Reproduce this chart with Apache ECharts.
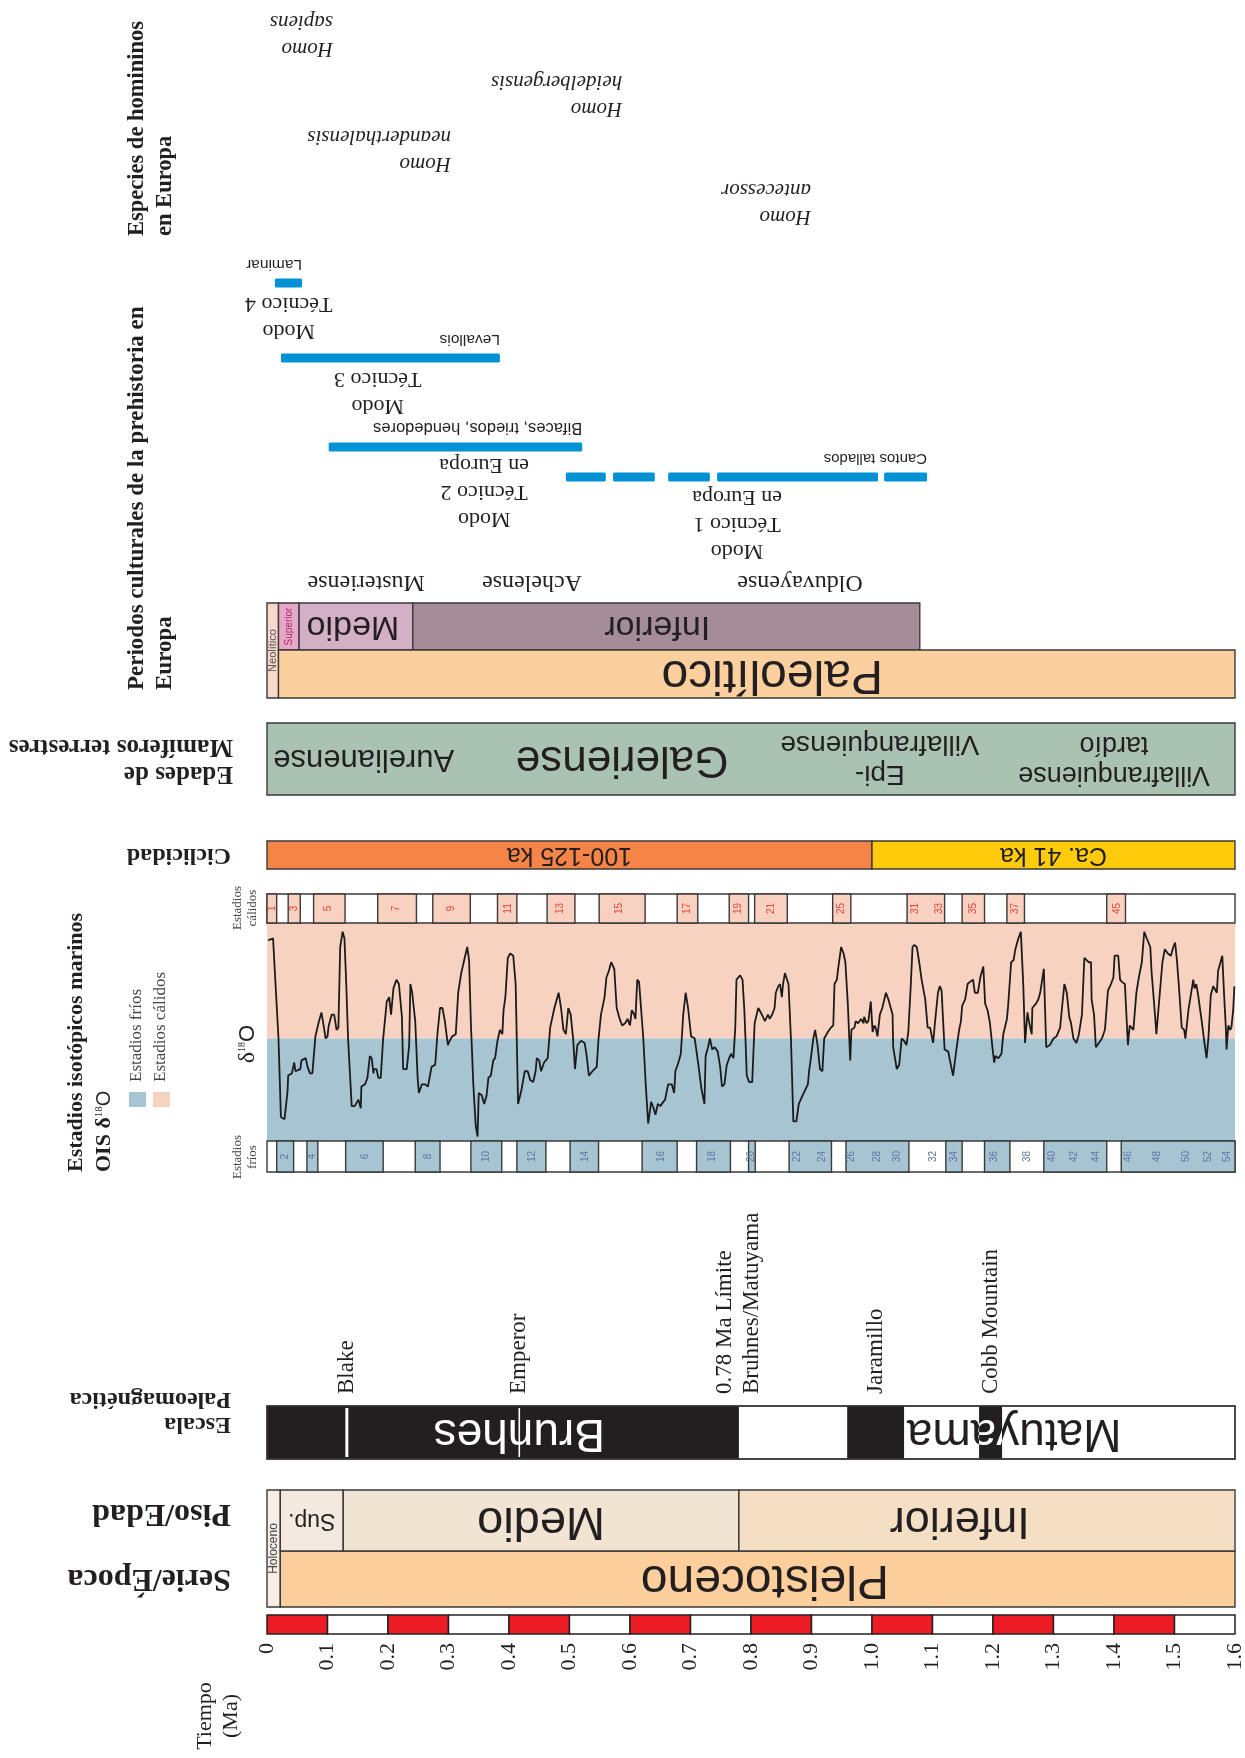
<!DOCTYPE html>
<html lang="es">
<head>
<meta charset="utf-8">
<title>Cronología del Pleistoceno en Europa</title>
<script src="https://cdn.jsdelivr.net/npm/echarts@6/dist/echarts.min.js"></script>
<style>
html, body { margin: 0; padding: 0; background: #ffffff; }
#chart { width: 1245px; height: 1758px; }
</style>
</head>
<body>
<div id="chart"></div>
<script>
// ---------------- Data (ages in Ma) ----------------
const timeCellEdges = [0, 0.1, 0.2, 0.3, 0.4, 0.5, 0.6, 0.7, 0.8, 0.9, 1.0, 1.1, 1.2, 1.3, 1.4, 1.5, 1.6];

const epochs = [['Holoceno', 0, 0.022], ['Pleistoceno', 0.022, 1.6]];
// [name, start, end, label anchor]
const stages = [['Sup.', 0.022, 0.126, 0.074], ['Medio', 0.126, 0.78, 0.453], ['Inferior', 0.78, 1.6, 1.145]];

const normalPolarity = [['Brunhes', 0, 0.78], ['Jaramillo', 0.959, 1.053], ['Cobb Mountain', 1.177, 1.215]];
const excursions = [['Blake', 0.132], ['Emperor', 0.417]];
const chronNames = [['Brunhes', 0.417], ['Matuyama', 1.235]];
const polarityEvents = [['Blake', 0.132], ['Emperor', 0.417], ['0.78 Ma Límite\nBruhnes/Matuyama', 0.78], ['Jaramillo', 1.006], ['Cobb Mountain', 1.196]];

// Marine isotope stages
const warmStages = [[0, 0.016], [0.035, 0.055], [0.077, 0.129], [0.183, 0.247], [0.274, 0.336], [0.381, 0.413],
  [0.463, 0.509], [0.549, 0.625], [0.678, 0.712], [0.764, 0.796], [0.806, 0.860], [0.935, 0.965],
  [1.058, 1.120], [1.149, 1.186], [1.223, 1.252], [1.388, 1.419]];
const coldStages = [[0.016, 0.044], [0.066, 0.084], [0.130, 0.192], [0.245, 0.286], [0.337, 0.388], [0.413, 0.461],
  [0.501, 0.548], [0.620, 0.678], [0.710, 0.766], [0.796, 0.807], [0.863, 0.933], [0.957, 1.061],
  [1.122, 1.149], [1.186, 1.228], [1.284, 1.388], [1.412, 1.600]];
const warmStageNumbers = [[0.008, '1'], [0.045, '3'], [0.102, '5'], [0.214, '7'], [0.305, '9'], [0.399, '11'],
  [0.484, '13'], [0.583, '15'], [0.694, '17'], [0.779, '19'], [0.834, '21'], [0.949, '25'], [1.072, '31'],
  [1.111, '33'], [1.168, '35'], [1.237, '37'], [1.406, '45']];
const coldStageNumbers = [[0.030, '2'], [0.075, '4'], [0.162, '6'], [0.267, '8'], [0.363, '10'], [0.438, '12'],
  [0.526, '14'], [0.651, '16'], [0.736, '18'], [0.801, '20'], [0.877, '22'], [0.918, '24'], [0.966, '26'],
  [1.008, '28'], [1.042, '30'], [1.101, '32'], [1.136, '34'], [1.202, '36'], [1.256, '38'], [1.298, '40'],
  [1.334, '42'], [1.370, '44'], [1.424, '46'], [1.472, '48'], [1.519, '50'], [1.556, '52'], [1.588, '54']];

// delta18O record, relative units (0 = coldest, 100 = warmest)
const oisThreshold = 47;
const oisCurve = [
  [0.002, 92], [0.010, 93], [0.019, 47], [0.023, 11], [0.029, 10], [0.034, 23], [0.035, 30], [0.041, 31], [0.045, 36], [0.047, 32],
  [0.055, 33], [0.057, 37], [0.064, 38], [0.067, 34], [0.071, 31], [0.075, 31], [0.080, 48], [0.085, 54], [0.090, 59], [0.093, 54],
  [0.097, 47], [0.100, 48], [0.102, 53], [0.107, 58], [0.111, 58], [0.115, 51], [0.118, 52], [0.121, 89], [0.125, 96], [0.128, 93],
  [0.131, 72], [0.134, 47], [0.140, 16], [0.145, 16], [0.151, 19], [0.155, 15], [0.156, 25], [0.162, 26], [0.166, 29], [0.170, 39],
  [0.173, 38], [0.176, 31], [0.177, 33], [0.181, 33], [0.184, 29], [0.188, 29], [0.192, 47], [0.198, 64], [0.202, 66], [0.205, 58],
  [0.209, 70], [0.214, 74], [0.218, 72], [0.223, 57], [0.225, 33], [0.231, 33], [0.235, 44], [0.237, 72], [0.240, 68], [0.245, 55],
  [0.249, 29], [0.251, 22], [0.256, 26], [0.261, 26], [0.266, 25], [0.272, 34], [0.278, 35], [0.282, 50], [0.286, 61], [0.290, 61],
  [0.294, 55], [0.299, 44], [0.302, 46], [0.306, 48], [0.312, 49], [0.316, 68], [0.321, 77], [0.326, 83], [0.331, 89], [0.334, 83],
  [0.337, 54], [0.341, 26], [0.345, 7], [0.348, 2], [0.350, 22], [0.355, 21], [0.359, 17], [0.363, 21], [0.366, 29], [0.370, 30],
  [0.374, 37], [0.377, 38], [0.381, 46], [0.385, 51], [0.389, 49], [0.391, 60], [0.394, 66], [0.398, 84], [0.402, 86], [0.407, 85],
  [0.411, 72], [0.415, 17], [0.421, 24], [0.426, 32], [0.431, 32], [0.435, 28], [0.440, 27], [0.444, 32], [0.446, 38], [0.450, 37],
  [0.453, 32], [0.458, 36], [0.464, 38], [0.468, 52], [0.475, 61], [0.482, 68], [0.486, 61], [0.490, 51], [0.494, 49], [0.498, 61],
  [0.502, 58], [0.506, 47], [0.509, 33], [0.513, 44], [0.519, 46], [0.525, 45], [0.528, 40], [0.532, 30], [0.538, 32], [0.545, 34],
  [0.548, 47], [0.552, 58], [0.558, 66], [0.561, 75], [0.565, 78], [0.569, 82], [0.574, 79], [0.578, 61], [0.583, 56], [0.587, 53],
  [0.592, 54], [0.596, 56], [0.600, 53], [0.603, 60], [0.607, 58], [0.609, 56], [0.612, 74], [0.615, 73], [0.618, 73], [0.622, 47],
  [0.626, 26], [0.630, 8], [0.635, 18], [0.639, 15], [0.642, 12], [0.646, 17], [0.650, 16], [0.653, 16], [0.658, 19], [0.663, 26],
  [0.669, 26], [0.673, 22], [0.675, 32], [0.680, 36], [0.684, 40], [0.688, 58], [0.692, 68], [0.696, 61], [0.701, 48], [0.707, 47],
  [0.713, 35], [0.718, 24], [0.723, 17], [0.725, 39], [0.729, 43], [0.732, 47], [0.736, 42], [0.740, 43], [0.745, 41], [0.749, 34],
  [0.752, 25], [0.756, 26], [0.760, 35], [0.764, 38], [0.767, 40], [0.771, 38], [0.774, 52], [0.776, 74], [0.782, 76], [0.786, 74],
  [0.789, 60], [0.791, 46], [0.793, 30], [0.797, 27], [0.802, 27], [0.806, 54], [0.812, 61], [0.818, 58], [0.823, 55], [0.828, 58],
  [0.831, 56], [0.835, 58], [0.839, 61], [0.841, 68], [0.845, 71], [0.848, 72], [0.851, 66], [0.853, 72], [0.856, 77], [0.862, 72],
  [0.866, 47], [0.870, 9], [0.875, 9], [0.879, 17], [0.887, 22], [0.894, 26], [0.896, 32], [0.899, 38], [0.903, 47], [0.906, 51],
  [0.910, 44], [0.914, 33], [0.918, 32], [0.921, 47], [0.927, 50], [0.932, 52], [0.936, 53], [0.938, 72], [0.942, 74], [0.944, 79],
  [0.949, 89], [0.953, 86], [0.956, 82], [0.960, 63], [0.964, 37], [0.966, 51], [0.971, 52], [0.973, 55], [0.977, 54], [0.982, 56],
  [0.986, 54], [0.987, 57], [0.991, 54], [0.994, 55], [0.998, 64], [1.001, 50], [1.004, 53], [1.006, 52], [1.009, 48], [1.013, 58],
  [1.017, 61], [1.023, 68], [1.027, 65], [1.031, 61], [1.034, 58], [1.035, 43], [1.041, 33], [1.045, 35], [1.049, 47], [1.053, 46],
  [1.057, 44], [1.060, 50], [1.064, 71], [1.067, 89], [1.070, 90], [1.074, 89], [1.078, 82], [1.082, 74], [1.088, 65], [1.092, 52],
  [1.096, 52], [1.101, 45], [1.104, 54], [1.109, 68], [1.112, 71], [1.115, 69], [1.120, 42], [1.123, 42], [1.126, 41], [1.131, 34],
  [1.134, 30], [1.136, 30], [1.140, 43], [1.144, 51], [1.147, 55], [1.149, 62], [1.154, 65], [1.158, 72], [1.162, 73], [1.167, 74],
  [1.170, 68], [1.175, 68], [1.179, 75], [1.184, 80], [1.187, 63], [1.191, 60], [1.195, 54], [1.199, 43], [1.202, 36], [1.204, 39],
  [1.209, 38], [1.214, 40], [1.217, 49], [1.223, 56], [1.225, 62], [1.230, 82], [1.234, 83], [1.237, 88], [1.242, 93], [1.246, 96],
  [1.250, 72], [1.253, 45], [1.257, 59], [1.260, 54], [1.264, 49], [1.265, 61], [1.271, 63], [1.275, 65], [1.278, 68], [1.284, 79],
  [1.288, 43], [1.294, 44], [1.300, 47], [1.305, 48], [1.311, 52], [1.314, 61], [1.318, 72], [1.322, 68], [1.326, 57], [1.329, 54],
  [1.333, 47], [1.338, 45], [1.342, 49], [1.347, 58], [1.351, 84], [1.358, 82], [1.362, 82], [1.363, 65], [1.367, 58], [1.370, 43],
  [1.375, 45], [1.380, 47], [1.385, 51], [1.390, 69], [1.395, 72], [1.399, 75], [1.401, 85], [1.407, 85], [1.410, 74], [1.413, 73],
  [1.418, 72], [1.423, 44], [1.426, 53], [1.429, 52], [1.432, 51], [1.437, 68], [1.441, 75], [1.446, 82], [1.450, 96], [1.454, 93],
  [1.460, 89], [1.462, 78], [1.468, 57], [1.470, 49], [1.473, 49], [1.477, 72], [1.480, 82], [1.484, 88], [1.489, 86], [1.494, 85],
  [1.498, 89], [1.501, 91], [1.504, 83], [1.507, 72], [1.512, 52], [1.516, 51], [1.518, 47], [1.523, 60], [1.527, 67], [1.531, 74],
  [1.533, 70], [1.536, 72], [1.539, 67], [1.545, 55], [1.549, 46], [1.553, 38], [1.556, 47], [1.560, 67], [1.564, 71], [1.570, 68],
  [1.572, 78], [1.575, 81], [1.579, 85], [1.582, 67], [1.585, 51], [1.586, 42], [1.589, 53], [1.592, 51], [1.594, 52], [1.597, 60],
  [1.599, 71], [1.600, 71]
];

const cyclicity = [['100-125 ka', 0, 1.0], ['Ca. 41 ka', 1.0, 1.6]];
const mammalAges = [['Aurelianense', 0.160], ['Galeriense', 0.587], ['Epi-\nVillafranquiense', 1.013], ['Villafranquiense\ntardío', 1.400]];

// [name, start, end, label anchor]
const culturalPeriods = [['Neolítico', 0, 0.019, 0.0095], ['Superior', 0.019, 0.053, 0.036], ['Medio', 0.053, 0.241, 0.142],
  ['Inferior', 0.241, 1.079, 0.645], ['Paleolítico', 0.019, 1.6, 0.835]];
const industries = [['Musteriense', 0.164], ['Achelense', 0.438], ['Olduvayense', 0.881]];
const lithicModes = [
  ['Cantos tallados', [[0.494, 0.560], [0.572, 0.641], [0.663, 0.732], [0.744, 1.010], [1.020, 1.091]]],
  ['Bifaces, triedos, hendedores', [[0.102, 0.521]]],
  ['Levallois', [[0.023, 0.385]]],
  ['Laminar', [[0.013, 0.058]]]
];
const modeNames = [['Modo\nTécnico 1\nen Europa', 0.777], ['Modo\nTécnico 2\nen Europa', 0.359], ['Modo\nTécnico 3', 0.183], ['Modo\nTécnico 4', 0.036]];
const hominins = [['Homo\nsapiens', 0.109], ['Homo\nheidelbergensis', 0.587], ['Homo\nneanderthalensis', 0.304], ['Homo\nantecessor', 0.899]];

// ---------------- Layout & styles ----------------
const PLOT_LEFT = 267, PLOT_RIGHT = 1235;
const SANS = '"Liberation Sans", Arial, sans-serif';
const SERIF = '"Liberation Serif", "Times New Roman", serif';
const INK = '#231f20';
const EDGE = '#3a3a3a';
const UP = Math.PI / 2, FLIP = Math.PI;

const ROW = {
  epoch: [1551, 1607], stage: [1490, 1551], polarity: [1406, 1459], eventBase: 1394,
  warm: [894, 923], cold: [1141, 1172], cycle: [841, 869], mammals: [723, 795],
  cultureTop: [603, 650], paleo: [650, 698], industries: 582
};
const periodRows = { 'Neolítico': [603, 698], 'Superior': [603, 650], 'Medio': [603, 650], 'Inferior': [603, 650], 'Paleolítico': [650, 698] };
const periodFill = { 'Neolítico': '#F8D8CA', 'Superior': '#E7A8C8', 'Medio': '#D4B0C7', 'Inferior': '#A48C98', 'Paleolítico': '#FBCF9E' };
const stageFill = { 'Sup.': '#F3E9DE', 'Medio': '#F1E4D3', 'Inferior': '#F4DFC5' };
const stageFont = { 'Sup.': 23, 'Medio': 47, 'Inferior': 45 };
const cycleFill = ['#F58446', '#FFCB0A'];
const mammalFont = [31, 44, 28, 27];
const lithicRowY = { 'Cantos tallados': 477, 'Bifaces, triedos, hendedores': 447, 'Levallois': 358, 'Laminar': 283 };
const lithicFont = { 'Cantos tallados': 15, 'Bifaces, triedos, hendedores': 16.5, 'Levallois': 15.5, 'Laminar': 15.5 };
const modeRowY = [524, 492, 392, 317];
const homininRowY = [35, 95, 150, 203];
const excursionWidth = { 'Blake': 3, 'Emperor': 1.6 };

// ---------------- Drawing helpers ----------------
const tx = (api, t) => api.coord([t, 0])[0];

function box(api, t0, t1, y0, y1, fill, stroke, lw) {
  const x0 = tx(api, t0), x1 = tx(api, t1);
  return {
    type: 'rect',
    shape: { x: x0, y: y0, width: x1 - x0, height: y1 - y0 },
    style: { fill: fill, stroke: stroke === undefined ? EDGE : stroke, lineWidth: lw || 1.4 }
  };
}

function label(x, y, text, o) {
  o = o || {};
  const style = {
    text: text, fill: o.fill || INK, fontFamily: o.family || SANS, fontSize: o.size || 14,
    fontWeight: o.weight || 'normal', fontStyle: o.italic ? 'italic' : 'normal',
    align: o.align || 'center', verticalAlign: o.va || 'middle'
  };
  if (o.lh) style.lineHeight = o.lh;
  return { type: 'text', x: x, y: y, rotation: o.rot || 0, style: style };
}

function layer(items, draw, z) {
  return {
    type: 'custom', xAxisIndex: 0, yAxisIndex: 0, clip: false, silent: true, z: z || 2,
    data: items.map(() => [0, 0]),
    renderItem: (params, api) => draw(items[params.dataIndex], api, params.dataIndex)
  };
}

const series = [];

// Time scale bar (own grid, labelled axis)
series.push({
  type: 'custom', xAxisIndex: 2, yAxisIndex: 2, silent: true, z: 2,
  data: timeCellEdges.slice(1).map(() => [0, 0]),
  renderItem: (params, api) => {
    const i = params.dataIndex;
    const a = api.coord([timeCellEdges[i], 1]), b = api.coord([timeCellEdges[i + 1], 0]);
    return {
      type: 'rect', shape: { x: a[0], y: a[1], width: b[0] - a[0], height: b[1] - a[1] },
      style: { fill: i % 2 === 0 ? '#ED1C24' : '#ffffff', stroke: '#222', lineWidth: 1.5 }
    };
  }
});

// Epoch and stage rows
series.push(layer(epochs, (d, api) => {
  if (d[0] === 'Holoceno') {
    return { type: 'group', children: [
      box(api, d[1], d[2], ROW.stage[0], ROW.epoch[1], '#F6EEE6'),
      label((tx(api, d[1]) + tx(api, d[2])) / 2, (ROW.stage[0] + ROW.epoch[1]) / 2, d[0], { rot: UP, size: 12, fill: '#444' })
    ] };
  }
  return { type: 'group', children: [
    box(api, d[1], d[2], ROW.epoch[0], ROW.epoch[1], '#FCCF9D'),
    label(tx(api, 0.823), (ROW.epoch[0] + ROW.epoch[1]) / 2, d[0], { rot: FLIP, size: 48 })
  ] };
}, 2));
series.push(layer(stages, (d, api) => ({ type: 'group', children: [
  box(api, d[1], d[2], ROW.stage[0], ROW.stage[1], stageFill[d[0]]),
  label(tx(api, d[3]), (ROW.stage[0] + ROW.stage[1]) / 2, d[0], { rot: FLIP, size: stageFont[d[0]] })
] }), 2));

// Palaeomagnetic scale
series.push(layer([[0, 1.6]], (d, api) => box(api, d[0], d[1], ROW.polarity[0], ROW.polarity[1], '#ffffff'), 2));
series.push(layer(normalPolarity, (d, api) => box(api, d[1], d[2], ROW.polarity[0], ROW.polarity[1], INK, 'none'), 3));
series.push(layer(excursions, (d, api) => {
  const x = tx(api, d[1]);
  return { type: 'line', shape: { x1: x, y1: ROW.polarity[0] + 2, x2: x, y2: ROW.polarity[1] - 2 },
    style: { stroke: '#ffffff', lineWidth: excursionWidth[d[0]] } };
}, 5));
series.push(layer(chronNames, (d, api) => {
  const x = tx(api, d[1]), y = (ROW.polarity[0] + ROW.polarity[1]) / 2;
  const children = [label(x, y, d[0], { rot: FLIP, size: 46, fill: d[0] === 'Brunhes' ? '#ffffff' : INK })];
  if (d[0] === 'Matuyama') {
    // white lettering where the text crosses normal-polarity subchrons
    normalPolarity.slice(1).forEach(n => {
      const x0 = tx(api, n[1]), x1 = tx(api, n[2]);
      children.push({ type: 'group',
        clipPath: { type: 'rect', shape: { x: x0, y: ROW.polarity[0], width: x1 - x0, height: ROW.polarity[1] - ROW.polarity[0] } },
        children: [label(x, y, d[0], { rot: FLIP, size: 46, fill: '#ffffff' })] });
    });
  }
  return { type: 'group', children: children };
}, 4));
series.push(layer([[0, 1.6]], (d, api) => box(api, d[0], d[1], ROW.polarity[0], ROW.polarity[1], 'none'), 6));
series.push(layer(polarityEvents, (d, api) =>
  label(tx(api, d[1]), ROW.eventBase, d[0], { rot: UP, size: 23, family: SERIF, align: 'left', lh: 27 }), 4));

// Isotope stage strips
function stageStrip(rows, fill) {
  return (d, api) => box(api, d[0], d[1], rows[0], rows[1], fill);
}
series.push(layer([[0, 1.6]], stageStrip(ROW.warm, '#ffffff'), 2));
series.push(layer([[0, 1.6]], stageStrip(ROW.cold, '#ffffff'), 2));
series.push(layer(warmStages, stageStrip(ROW.warm, '#F8D1C0'), 3));
series.push(layer(coldStages, stageStrip(ROW.cold, '#A6C4D2'), 3));
series.push(layer(warmStageNumbers, (d, api) =>
  label(tx(api, d[0]), (ROW.warm[0] + ROW.warm[1]) / 2, d[1], { rot: UP, size: 10, fill: '#E8473A' }), 4));
series.push(layer(coldStageNumbers, (d, api) =>
  label(tx(api, d[0]), (ROW.cold[0] + ROW.cold[1]) / 2, d[1], { rot: UP, size: 10, fill: '#5C76A6' }), 4));

// Isotope curve with warm / cold shading
series.push({
  type: 'custom', xAxisIndex: 1, yAxisIndex: 1, silent: true, z: 1,
  data: [[oisThreshold, 100], [0, oisThreshold]],
  renderItem: (params, api) => {
    const a = api.coord([0, api.value(1)]), b = api.coord([1.6, api.value(0)]);
    return { type: 'rect', shape: { x: a[0], y: a[1], width: b[0] - a[0], height: b[1] - a[1] },
      style: { fill: params.dataIndex === 0 ? '#F8D2C1' : '#A6C4D2' } };
  }
});
series.push({
  type: 'line', xAxisIndex: 1, yAxisIndex: 1, data: oisCurve, symbol: 'none', silent: true, z: 3,
  lineStyle: { color: '#1b1b1b', width: 1.8 }
});

// Cyclicity
series.push(layer(cyclicity, (d, api, i) => ({ type: 'group', children: [
  box(api, d[1], d[2], ROW.cycle[0], ROW.cycle[1], cycleFill[i]),
  label((tx(api, d[1]) + tx(api, d[2])) / 2, (ROW.cycle[0] + ROW.cycle[1]) / 2, d[0], { rot: FLIP, size: 25 })
] }), 2));

// Land-mammal ages
series.push(layer([[0, 1.6]], (d, api) => box(api, d[0], d[1], ROW.mammals[0], ROW.mammals[1], '#A9C2B2'), 2));
series.push(layer(mammalAges, (d, api, i) =>
  label(tx(api, d[1]), (ROW.mammals[0] + ROW.mammals[1]) / 2, d[0], { rot: FLIP, size: mammalFont[i], lh: 30 }), 4));

// Cultural periods
series.push(layer(culturalPeriods, (d, api) => {
  const r = periodRows[d[0]];
  const narrow = d[0] === 'Neolítico' || d[0] === 'Superior';
  const size = d[0] === 'Paleolítico' ? 48 : (narrow ? (d[0] === 'Superior' ? 10 : 11) : 34);
  const fill = d[0] === 'Superior' ? '#A8276A' : (d[0] === 'Neolítico' ? '#555' : INK);
  return { type: 'group', children: [
    box(api, d[1], d[2], r[0], r[1], periodFill[d[0]]),
    label(tx(api, d[3]), (r[0] + r[1]) / 2, d[0], { rot: narrow ? UP : FLIP, size: size, fill: fill })
  ] };
}, 2));
series.push(layer(industries, (d, api) =>
  label(tx(api, d[1]), ROW.industries, d[0], { rot: FLIP, size: 24, family: SERIF }), 4));

// Lithic technology ranges
series.push(layer(lithicModes, (d, api) => {
  const y = lithicRowY[d[0]];
  const children = d[1].map(s => {
    const x0 = tx(api, s[0]), x1 = tx(api, s[1]);
    return { type: 'rect', shape: { x: x0, y: y - 4.5, width: x1 - x0, height: 9, r: 1.5 }, style: { fill: '#0092D5' } };
  });
  const end = d[1][d[1].length - 1][1];
  children.push(label(tx(api, end), y - 19, d[0], { rot: FLIP, size: lithicFont[d[0]], align: 'left' }));
  return { type: 'group', children: children };
}, 3));
series.push(layer(modeNames, (d, api, i) =>
  label(tx(api, d[1]), modeRowY[i], d[0], { rot: FLIP, size: 22, family: SERIF, lh: 27 }), 4));

// Hominin species
series.push(layer(hominins, (d, api, i) =>
  label(tx(api, d[1]), homininRowY[i], d[0], { rot: FLIP, size: 21, family: SERIF, italic: true, align: 'left', lh: 27 }), 4));

// ---------------- Column headings ----------------
function heading(x, y, text, o) {
  const el = label(x, y, text, o);
  el.z = 100;
  return el;
}
const graphics = [
  heading(218, 1716, 'Tiempo\n(Ma)', { rot: UP, size: 22, family: SERIF, lh: 26 }),
  heading(231, 1578, 'Serie/Época', { rot: FLIP, size: 32, family: SERIF, weight: 'bold', align: 'left' }),
  heading(231, 1513, 'Piso/Edad', { rot: FLIP, size: 32, family: SERIF, weight: 'bold', align: 'left' }),
  heading(231, 1412, 'Escala\nPaleomagnética', { rot: FLIP, size: 24, family: SERIF, weight: 'bold', align: 'left', lh: 25 }),
  heading(245, 908, 'Estadios\ncálidos', { rot: UP, size: 13, family: SERIF, lh: 15, fill: '#444' }),
  heading(245, 1157, 'Estadios\nfríos', { rot: UP, size: 13, family: SERIF, lh: 15, fill: '#444' }),
  heading(137, 1082, 'Estadios fríos', { rot: UP, size: 17, family: SERIF, align: 'left', fill: '#444' }),
  heading(161, 1082, 'Estadios cálidos', { rot: UP, size: 17, family: SERIF, align: 'left', fill: '#444' }),
  heading(231, 855, 'Ciclicidad', { rot: FLIP, size: 24, family: SERIF, weight: 'bold', align: 'left' }),
  heading(233, 760, 'Edades de\nMamíferos terrestres', { rot: FLIP, size: 25, family: SERIF, weight: 'bold', align: 'left', lh: 27 }),
  heading(151, 690, 'Periodos culturales de la prehistoria en\nEuropa', { rot: UP, size: 23, family: SERIF, weight: 'bold', align: 'left', lh: 28 }),
  heading(151, 236, 'Especies de homininos\nen Europa', { rot: UP, size: 22.5, family: SERIF, weight: 'bold', align: 'left', lh: 28 }),
  { type: 'rect', z: 100, shape: { x: 129, y: 1092, width: 17, height: 15 }, style: { fill: '#A6C4D2' } },
  { type: 'rect', z: 100, shape: { x: 153, y: 1092, width: 17, height: 15 }, style: { fill: '#F8D2C1' } }
];
const oisTitle = heading(90, 1172, 'Estadios isotópicos marinos\nOIS {d|δ}{s|18}{o|O}',
  { rot: UP, size: 22, family: SERIF, weight: 'bold', align: 'left', lh: 28 });
oisTitle.style.rich = {
  d: { fontFamily: SERIF, fontSize: 22, fontWeight: 'bold' },
  s: { fontFamily: SERIF, fontSize: 11, padding: [0, 0, 10, 0] },
  o: { fontFamily: SANS, fontSize: 20 }
};
graphics.push(oisTitle);
const deltaLabel = heading(248, 1044, '{d|δ}{s|18}{o|O}', { rot: UP, size: 20 });
deltaLabel.style.rich = {
  d: { fontFamily: SERIF, fontSize: 24 },
  s: { fontFamily: SERIF, fontSize: 10, padding: [0, 0, 11, 0] },
  o: { fontFamily: SANS, fontSize: 22 }
};
graphics.push(deltaLabel);

// ---------------- Chart ----------------
const hiddenX = i => ({ gridIndex: i, type: 'value', min: 0, max: 1.6, show: false });
const option = {
  animation: false,
  backgroundColor: '#ffffff',
  grid: [
    { left: PLOT_LEFT, right: 1245 - PLOT_RIGHT, top: 0, height: 1758, outerBoundsMode: 'none' },
    { left: PLOT_LEFT, right: 1245 - PLOT_RIGHT, top: 923, height: 218, outerBoundsMode: 'none' },
    { left: PLOT_LEFT, right: 1245 - PLOT_RIGHT, top: 1615, height: 19, outerBoundsMode: 'none' }
  ],
  xAxis: [
    hiddenX(0),
    hiddenX(1),
    {
      gridIndex: 2, type: 'value', min: 0, max: 1.6, interval: 0.1, position: 'bottom',
      axisLine: { show: false }, axisTick: { show: false }, splitLine: { show: false },
      axisLabel: {
        rotate: 90, margin: 9, color: INK, fontFamily: SERIF, fontSize: 22, hideOverlap: false,
        formatter: v => (v === 0 ? '0' : v.toFixed(1))
      }
    }
  ],
  yAxis: [
    { gridIndex: 0, type: 'value', min: 0, max: 1758, inverse: true, show: false },
    { gridIndex: 1, type: 'value', min: 0, max: 100, show: false },
    { gridIndex: 2, type: 'value', min: 0, max: 1, show: false }
  ],
  graphic: { elements: graphics },
  series: series
};

const chart = echarts.init(document.getElementById('chart'), null, { renderer: 'canvas', width: 1245, height: 1758 });
chart.setOption(option);
</script>
</body>
</html>
